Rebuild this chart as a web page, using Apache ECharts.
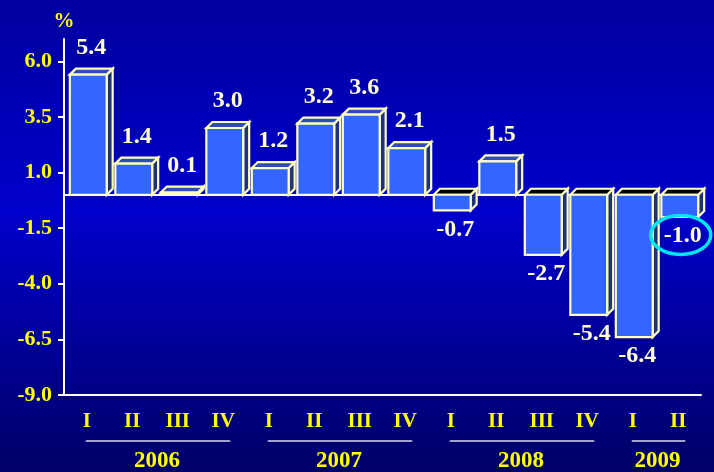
<!DOCTYPE html>
<html>
<head>
<meta charset="utf-8">
<script src="https://cdn.jsdelivr.net/npm/echarts@6/dist/echarts.min.js"></script>
<style>
html,body{margin:0;padding:0;}
#chart{width:714px;height:472px;}
</style>
</head>
<body>
<div id="chart"></div>
<script>
const quarters = ['I','II','III','IV','I','II','III','IV','I','II','III','IV','I','II'];
const growth = [5.4, 1.4, 0.1, 3.0, 1.2, 3.2, 3.6, 2.1, -0.7, 1.5, -2.7, -5.4, -6.4, -1.0];
const yTicks = [-9, -6.5, -4, -1.5, 1, 3.5, 6];
const yMin = -9, yMax = 7;
const years = ['2006', '2007', '2008', '2009'];
const yearFirst = [0, 4, 8, 12];
const yearLast = [3, 7, 11, 13];
const highlighted = [13];

const FONT = '"Liberation Serif", "Times New Roman", serif';
const OUTLINE = '#FFFFC0';

const chart = echarts.init(document.getElementById('chart'), null, {renderer: 'canvas'});

function renderBar(params, api) {
  const idx = api.value(0), v = api.value(1);
  const p0 = api.coord([idx, 0]);
  const p1 = api.coord([idx, v]);
  const bw = api.size([1, 0])[0] * 0.81;
  const d = 6;
  const xL = p0[0] - bw / 2 + 1.5, xR = xL + bw;
  const yTop = Math.min(p0[1], p1[1]);
  const yBot = Math.max(p0[1], p1[1]);
  const lw = 2.2;
  const children = [
    {type: 'polygon', shape: {points: [[xR, yTop], [xR + d, yTop - d], [xR + d, yBot - d], [xR, yBot]]},
     style: {fill: '#1E3378', stroke: OUTLINE, lineWidth: lw}},
    {type: 'polygon', shape: {points: [[xL, yTop], [xL + d, yTop - d], [xR + d, yTop - d], [xR, yTop]]},
     style: {fill: v >= 0 ? '#2E4CBC' : '#000000', stroke: OUTLINE, lineWidth: lw}},
    {type: 'rect', shape: {x: xL, y: yTop, width: bw, height: Math.max(yBot - yTop, 0.5)},
     style: {fill: '#3366FF', stroke: OUTLINE, lineWidth: lw}}
  ];
  const lx = (xL + xR) / 2 + 3;
  const ly = v >= 0 ? yTop - 27 : yBot + 19;
  children.push({type: 'text', style: {text: v.toFixed(1), x: lx, y: ly, align: 'center', verticalAlign: 'middle',
    fill: '#FFFFD0', font: 'bold 24px ' + FONT}});
  if (highlighted.indexOf(params.dataIndex) >= 0) {
    children.push({type: 'ellipse', shape: {cx: lx - 2, cy: ly - 1, rx: 30, ry: 19.5},
      style: {fill: 'none', stroke: '#00E5EE', lineWidth: 3.5}});
  }
  return {type: 'group', children: children};
}

function renderYear(params, api) {
  const i = params.dataIndex;
  const a = api.coord([yearFirst[i], yMin]);
  const b = api.coord([yearLast[i], yMin]);
  const mid = (a[0] + b[0]) / 2 + 2;
  return {type: 'group', children: [
    {type: 'line', shape: {x1: a[0] - 1, y1: a[1] + 46, x2: b[0] + 7, y2: a[1] + 46},
     style: {stroke: '#D8D8F0', lineWidth: 1.5}},
    {type: 'text', style: {text: years[i], x: mid, y: a[1] + 66, align: 'center', verticalAlign: 'middle',
      fill: '#FFFF00', font: 'bold 23px ' + FONT}}
  ]};
}

const option = {
  animation: false,
  backgroundColor: new echarts.graphic.LinearGradient(0, 0, 0, 1, [
    {offset: 0, color: '#00009E'},
    {offset: 0.45, color: '#0000CC'},
    {offset: 1, color: '#000066'}
  ]),
  grid: {left: 64, right: 13, top: 39, bottom: 77},
  xAxis: [
    {type: 'category', data: quarters, position: 'bottom',
     axisLine: {onZero: false, lineStyle: {color: '#FFFFFF', width: 2}},
     axisTick: {length: 6, lineStyle: {color: '#FFFFFF', width: 2}},
     axisLabel: {margin: 16, color: '#FFFF00', fontFamily: FONT, fontWeight: 'bold', fontSize: 21}},
    {type: 'category', data: quarters, position: 'top',
     axisLine: {onZero: true, lineStyle: {color: '#FFFFFF', width: 2}},
     axisTick: {inside: true, length: 6, lineStyle: {color: '#FFFFFF', width: 2}},
     axisLabel: {show: false}}
  ],
  yAxis: {
    type: 'value', min: yMin, max: yMax,
    name: '%', nameLocation: 'end', nameGap: 7,
    nameTextStyle: {color: '#FFFF00', fontFamily: FONT, fontWeight: 'bold', fontSize: 21, align: 'center'},
    axisLine: {show: true, onZero: false, lineStyle: {color: '#FFFFFF', width: 2}},
    axisTick: {show: true, length: 6, customValues: yTicks, lineStyle: {color: '#FFFFFF', width: 2}},
    axisLabel: {customValues: yTicks, margin: 12, color: '#FFFF00', fontFamily: FONT, fontWeight: 'bold', fontSize: 22,
      formatter: v => v.toFixed(1)},
    splitLine: {show: false}
  },
  series: [
    {type: 'custom', renderItem: renderBar, clip: false, z: 3,
     data: growth.map((v, i) => [i, v])},
    {type: 'custom', renderItem: renderYear, clip: false, z: 3,
     data: years.map((y, i) => [yearFirst[i], yMin])}
  ]
};
chart.setOption(option);
</script>
</body>
</html>
